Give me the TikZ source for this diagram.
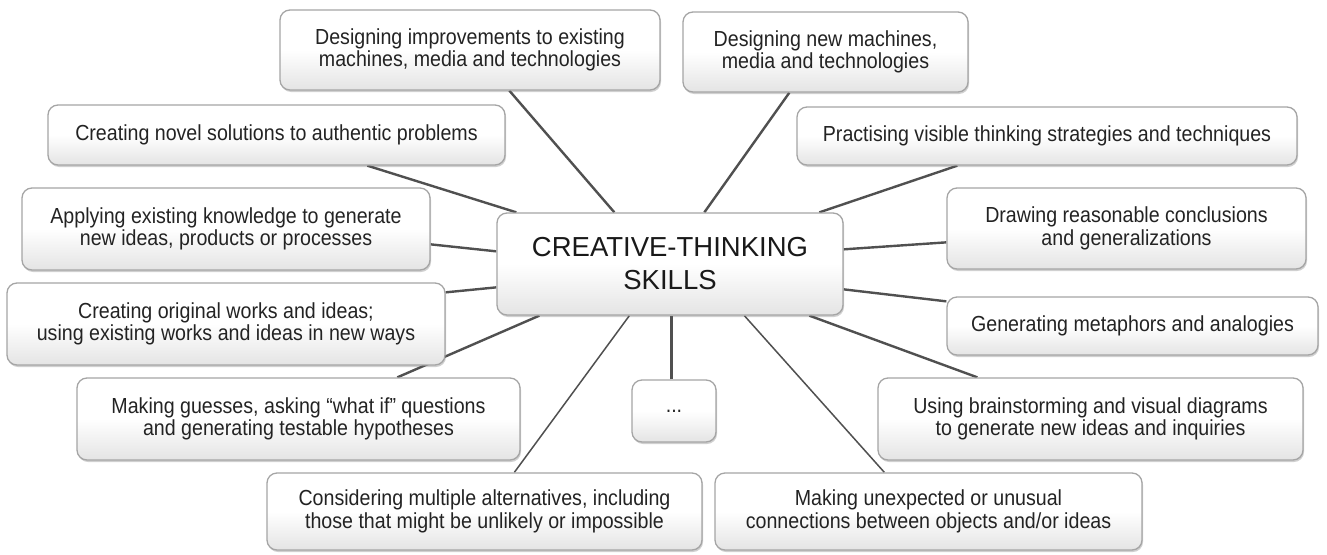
\documentclass[tikz,border=0pt]{standalone}
\usepackage{fontspec}
\setmainfont{Liberation Sans}[FakeStretch=0.9]
\newfontfamily\hubfont{Liberation Sans}
\usetikzlibrary{shadows}
\pgfdeclarelayer{bg}
\pgfsetlayers{bg,main}
\definecolor{linegray}{RGB}{80,80,80}
\definecolor{boxborder}{RGB}{165,165,165}
\definecolor{boxbottom}{RGB}{228,228,228}
\definecolor{txt}{RGB}{35,35,35}
\tikzset{
  box/.style={rectangle, rounded corners=10pt, draw=boxborder, line width=1.3pt,
    top color=white, bottom color=boxbottom, middle color=white,
    drop shadow={shadow xshift=1pt, shadow yshift=-2pt, opacity=0.3, fill=black!60},
    align=center, inner sep=0pt, text=txt,
    font=\fontsize{21.8}{22.5}\selectfont},
  hub/.style={box, text=black!90, font=\hubfont\fontsize{27.5}{33}\selectfont},
  link/.style={draw=linegray, line width=2.4pt},
  thinlink/.style={draw=linegray, line width=1.5pt}
}
\begin{document}
\begin{tikzpicture}[x=1pt,y=-1pt]
\useasboundingbox (0,0) rectangle (1327,554);

\node[hub, minimum width=346pt, minimum height=102pt] (c) at (670,264) {CREATIVE-THINKING\\SKILLS};

\node[box, minimum width=380pt, minimum height=80pt] (b1) at (470,50) {Designing improvements to existing\\machines, media and technologies};
\node[box, minimum width=285pt, minimum height=80pt] (b2) at (825.5,52) {Designing new machines,\\media and technologies};
\node[box, minimum width=457pt, minimum height=60pt] (b3) at (276.5,135) {Creating novel solutions to authentic problems};
\node[box, minimum width=500pt, minimum height=58pt] (b4) at (1047,136) {Practising visible thinking strategies and techniques};
\node[box, minimum width=408pt, minimum height=82pt] (b5) at (226,229) {Applying existing knowledge to generate\\new ideas, products or processes};
\node[box, minimum width=359pt, minimum height=81pt] (b6) at (1126.5,228.5) {Drawing reasonable conclusions\\and generalizations};
\node[box, minimum width=438pt, minimum height=82pt] (b7) at (226,324) {Creating original works and ideas;\\using existing works and ideas in new ways};
\node[box, minimum width=371pt, minimum height=58pt] (b8) at (1132.5,326) {Generating metaphors and analogies};
\node[box, minimum width=443pt, minimum height=82pt] (b9) at (298.5,419) {Making guesses, asking “what if” questions\\and generating testable hypotheses};
\node[box, minimum width=84pt, minimum height=62pt] (b10) at (674,411) {...};
\node[box, minimum width=425pt, minimum height=82pt] (b11) at (1090.5,419) {Using brainstorming and visual diagrams\\to generate new ideas and inquiries};
\node[box, minimum width=435pt, minimum height=77pt] (b12) at (484.5,511.5) {Considering multiple alternatives, including\\those that might be unlikely or impossible};
\node[box, minimum width=427pt, minimum height=77pt] (b13) at (928.5,511.5) {Making unexpected or unusual\\connections between objects and/or ideas};

\begin{pgfonlayer}{bg}
\fill[white] (0,0) rectangle (1327,554);
\draw[link] ([xshift=230pt]b1.south west) -- ([xshift=118pt]c.north west);
\draw[link] ([xshift=107pt]b2.south west) -- ([xshift=208pt]c.north west);
\draw[link] ([xshift=320pt]b3.south west) -- ([xshift=20pt]c.north west);
\draw[link] ([xshift=161pt]b4.south west) -- ([xshift=323pt]c.north west);
\draw[link] ([yshift=-57pt]b5.north east) -- ([yshift=-39pt]c.north west);
\draw[link] ([yshift=-55pt]b6.north west) -- ([yshift=-37pt]c.north east);
\draw[link] ([yshift=-10pt]b7.north east) -- ([yshift=-75pt]c.north west);
\draw[link] ([yshift=-5pt]b8.north west) -- ([yshift=-77pt]c.north east);
\draw[link] ([xshift=321pt]b9.north west) -- ([xshift=43pt]c.south west);
\draw[link] ([xshift=40pt]b10.north west) -- ([xshift=175pt]c.south west);
\draw[link] ([xshift=100pt]b11.north west) -- ([xshift=313pt]c.south west);
\draw[thinlink] ([xshift=248pt]b12.north west) -- ([xshift=133pt]c.south west);
\draw[thinlink] ([xshift=170pt]b13.north west) -- ([xshift=248pt]c.south west);
\end{pgfonlayer}
\end{tikzpicture}
\end{document}
